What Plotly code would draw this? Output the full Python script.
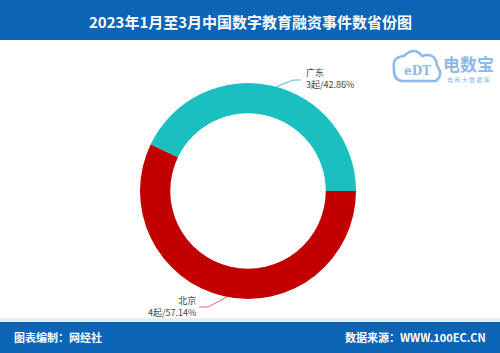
import plotly.graph_objects as go

title = "2023年1月至3月中国数字教育融资事件数省份图"
labels = ["北京", "广东"]
values = [4, 3]
colors = ["#c30000", "#1bbfbf"]
footer_left = "图表编制：网经社"
footer_right = "数据来源：WWW.100EC.CN"

W, H = 500, 353
def px(x):
    return x / W
def py(y):
    return 1 - y / H

FONT = "Noto Sans CJK SC"
BLUE = "#0b64b5"

fig = go.Figure()
cx, cy, r = 248, 191, 108
fig.add_trace(go.Pie(
    labels=labels, values=values, hole=0.72, sort=False,
    direction="clockwise", rotation=90,
    marker=dict(colors=colors, line=dict(width=0)),
    textinfo="none", showlegend=False, hoverinfo="label+value+percent",
    domain=dict(x=[px(cx - r), px(cx + r)], y=[py(cy + r), py(cy - r)]),
))

total = sum(values)
texts = [f"{l}<br>{v}起/{v / total * 100:.2f}%" for l, v in zip(labels, values)]

shapes = [
    dict(type="rect", xref="paper", yref="paper", x0=0, x1=1, y0=py(40), y1=1,
         fillcolor=BLUE, line=dict(width=0), layer="below"),
    dict(type="rect", xref="paper", yref="paper", x0=0, x1=1, y0=py(322), y1=py(318),
         fillcolor="#e9edf0", line=dict(width=0), layer="below"),
    dict(type="rect", xref="paper", yref="paper", x0=0, x1=1, y0=0, y1=py(322),
         fillcolor=BLUE, line=dict(width=0), layer="below"),
    # leader lines
    dict(type="path", xref="paper", yref="paper",
         path=f"M {px(227)} {py(297)} L {px(208)} {py(307)} L {px(199)} {py(307)}",
         line=dict(color="#d96a6a", width=1)),
    dict(type="path", xref="paper", yref="paper",
         path=f"M {px(276)} {py(87)} L {px(293)} {py(80)} L {px(301)} {py(80)}",
         line=dict(color="#3ccccc", width=1)),
    # cloud logo outline
    dict(type="path", xref="paper", yref="paper",
         path=(f"M {px(402)} {py(81)} L {px(436)} {py(81)} "
               f"Q {px(444)} {py(74)} {px(437)} {py(66)} "
               f"Q {px(436)} {py(52)} {px(422)} {py(56)} "
               f"Q {px(414)} {py(46)} {px(404)} {py(56)} "
               f"Q {px(392)} {py(57)} {px(394)} {py(68)} "
               f"Q {px(393)} {py(80)} {px(402)} {py(81)} Z"),
         line=dict(color="#8db8ea", width=2.5), fillcolor="rgba(0,0,0,0)"),
]

annotations = [
    dict(text=f"<b>{title}</b>", x=0.5, y=py(21), xref="paper", yref="paper",
         showarrow=False, font=dict(family=FONT, size=15, color="white"),
         xanchor="center", yanchor="middle"),
    dict(text=f"<b>{footer_left}</b>", x=px(12), y=py(337), xref="paper", yref="paper",
         showarrow=False, font=dict(family=FONT, size=11, color="white"),
         xanchor="left", yanchor="middle"),
    dict(text=f"<b>{footer_right}</b>", x=px(488), y=py(337), xref="paper", yref="paper",
         showarrow=False, font=dict(family=FONT, size=11, color="white"),
         xanchor="right", yanchor="middle"),
    dict(text=texts[0], x=px(198), y=py(306), xref="paper", yref="paper",
         showarrow=False, align="right", font=dict(family=FONT, size=9, color="#444"),
         xanchor="right", yanchor="middle"),
    dict(text=texts[1], x=px(304), y=py(78), xref="paper", yref="paper",
         showarrow=False, align="left", font=dict(family=FONT, size=9, color="#444"),
         xanchor="left", yanchor="middle"),
    dict(text="<b>电数宝</b>", x=px(468), y=py(64), xref="paper", yref="paper",
         showarrow=False, font=dict(family=FONT, size=17, color="#8db8ea"),
         xanchor="center", yanchor="middle"),
    dict(text="电 商 大 数 据 库", x=px(468), y=py(79), xref="paper", yref="paper",
         showarrow=False, font=dict(family=FONT, size=6, color="#8db8ea"),
         xanchor="center", yanchor="middle"),
    dict(text="<b>eDT</b>", x=px(417), y=py(71), xref="paper", yref="paper",
         showarrow=False, font=dict(family="DejaVu Serif", size=12, color="#8db8ea"),
         xanchor="center", yanchor="middle"),
]

fig.update_layout(
    width=W, height=H, margin=dict(l=0, r=0, t=0, b=0),
    paper_bgcolor="white", plot_bgcolor="white",
    shapes=shapes, annotations=annotations,
)
fig.write_html("out.html")
